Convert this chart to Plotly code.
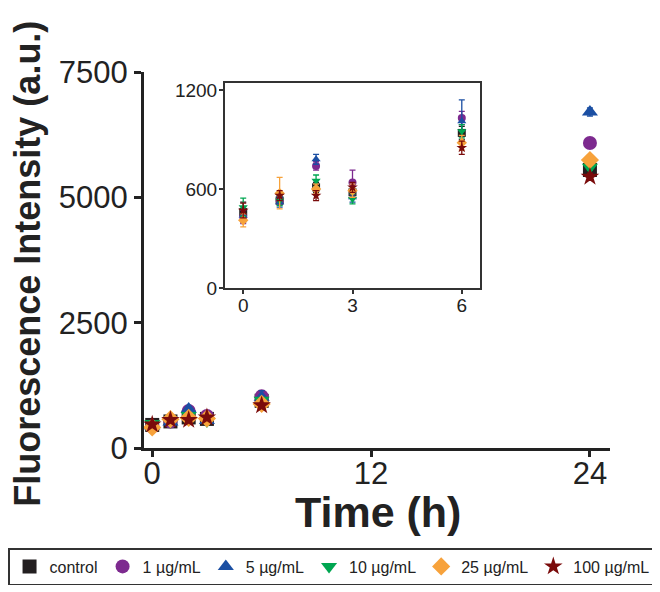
import plotly.graph_objects as go

time_h = [0, 1, 2, 3, 6, 24]
series_names = ["control", "1 µg/mL", "5 µg/mL", "10 µg/mL", "25 µg/mL", "100 µg/mL"]

control = [460, 530, 610, 580, 940, 5545]
c1 = [430, 530, 740, 640, 1030, 6085]
c5 = [440, 520, 780, 550, 1010, 6700]
c10 = [490, 530, 650, 540, 950, 5600]
c25 = [410, 575, 600, 590, 880, 5745]
c100 = [470, 560, 560, 610, 850, 5410]

err_control = [60, 25, 30, 35, 40, 60]
err_c1 = [40, 25, 25, 75, 40, 70]
err_c5 = [35, 30, 30, 30, 130, 80]
err_c10 = [55, 30, 35, 30, 40, 60]
err_c25 = [40, 95, 30, 40, 45, 60]
err_c100 = [45, 30, 30, 30, 40, 70]

values = [control, c1, c5, c10, c25, c100]
errors = [err_control, err_c1, err_c5, err_c10, err_c25, err_c100]
colors = ["#231F20", "#7D2A8F", "#1B4FA3", "#00A651", "#F7A23B", "#7A0B0B"]
symbols = ["square", "circle", "triangle-up", "triangle-down", "diamond", "star"]

yticks_main = [0, 2500, 5000, 7500]
xticks_main = [0, 12, 24]
yticks_inset = [0, 600, 1200]
xticks_inset = [0, 3, 6]

fig = go.Figure()

for name, v, e, col, sym in zip(series_names, values, errors, colors, symbols):
    fig.add_trace(go.Scatter(
        x=time_h, y=v, mode="markers", name=name,
        marker=dict(symbol=sym, color=col, size=14, line=dict(width=0)),
        error_y=dict(type="data", array=e, color=col, thickness=1.5, width=3),
        xaxis="x", yaxis="y", showlegend=True,
    ))

for name, v, e, col, sym in zip(series_names, values, errors, colors, symbols):
    fig.add_trace(go.Scatter(
        x=time_h[:5], y=v[:5], mode="markers", name=name,
        marker=dict(symbol=sym, color=col, size=8, line=dict(width=0)),
        error_y=dict(type="data", array=e[:5], color=col, thickness=1.3, width=3),
        xaxis="x2", yaxis="y2", showlegend=False,
    ))

FAM = "Liberation Sans, Arial, sans-serif"
axis_font = dict(family=FAM, size=31, color="#222")
inset_font = dict(family=FAM, size=19, color="#222")

W = 652
fig.update_layout(
    width=W, height=584,
    margin=dict(l=0, r=0, t=64, b=144),
    paper_bgcolor="white", plot_bgcolor="white",
    xaxis=dict(domain=[136 / W, 602 / W], range=[-0.45, 25.1], tickvals=xticks_main,
               showline=True, linewidth=3, linecolor="#222", ticks="outside",
               ticklen=6, tickwidth=3, tickcolor="#222", showgrid=False,
               zeroline=False, tickfont=axis_font, ticklabelstandoff=-10),
    yaxis=dict(domain=[0, 1], range=[0, 7500], tickvals=yticks_main,
               showline=True, linewidth=3, linecolor="#222", ticks="outside",
               ticklen=7, tickwidth=3, tickcolor="#222", showgrid=False,
               zeroline=False, tickfont=axis_font),
    xaxis2=dict(domain=[217 / W, 472 / W], anchor="y2", range=[-0.5, 6.5],
                tickvals=xticks_inset, showline=True, mirror=True, linewidth=2,
                linecolor="#333", ticks="outside", ticklen=4, tickwidth=2,
                tickcolor="#333", showgrid=False, zeroline=False, tickfont=inset_font,
                ticklabelstandoff=-5),
    yaxis2=dict(domain=[0.4255, 0.971], anchor="x2", range=[0, 1243],
                tickvals=yticks_inset, showline=True, mirror=True, linewidth=2,
                linecolor="#333", ticks="outside", ticklen=4, tickwidth=2,
                tickcolor="#333", showgrid=False, zeroline=False, tickfont=inset_font,
                ticklabelstandoff=-2),
    legend=dict(orientation="h", xref="container", yref="container",
                x=0.497, xanchor="center", y=0.0753, yanchor="top",
                bordercolor="#333", borderwidth=1.5,
                font=dict(family=FAM, size=16, color="#222"),
                itemclick=False),
    annotations=[
        dict(text="<b>Fluorescence Intensity (a.u.)</b>", textangle=-90,
             xref="paper", yref="paper", x=20 / W, y=0.49,
             xanchor="center", yanchor="middle", showarrow=False,
             font=dict(family=FAM, size=36, color="#222")),
        dict(text="<b>Time (h)</b>", xref="paper", yref="paper",
             x=370 / W, y=-0.17, xanchor="center", yanchor="middle", showarrow=False,
             font=dict(family=FAM, size=43, color="#222")),
    ],
)

fig.write_html("out.html")
